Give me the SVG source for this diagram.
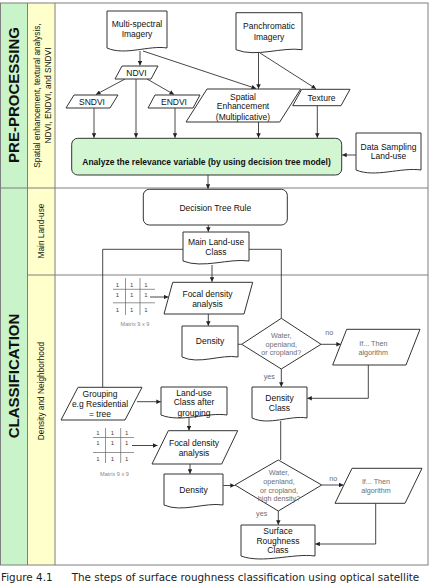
<svg xmlns="http://www.w3.org/2000/svg" width="431" height="583" viewBox="0 0 431 583">
<defs>
<marker id="a" viewBox="0 0 6 6" refX="6" refY="3" markerWidth="5" markerHeight="4.5" markerUnits="userSpaceOnUse" orient="auto"><path d="M0,0 L6,3 L0,6 z" fill="#222"/></marker>
<style>
.frame{stroke:#7f7f7f;stroke-width:1;fill:none}
.sh{fill:#fff;stroke:#333;stroke-width:1}
.c{stroke:#333;stroke-width:0.9;fill:none}
.ca{stroke:#333;stroke-width:0.9;fill:none;marker-end:url(#a)}
.t{font-family:"Liberation Sans",Arial,sans-serif;font-size:8.5px;fill:#111;text-anchor:middle}
.g{font-family:"Liberation Sans",Arial,sans-serif;font-size:7.2px;fill:#6e6e6e;text-anchor:middle}
.m{font-family:"Liberation Sans",Arial,sans-serif;font-size:6px;fill:#444;text-anchor:middle}
.mx{font-family:"Liberation Sans",Arial,sans-serif;font-size:5.6px;fill:#888;text-anchor:middle}
.gl{stroke:#666;stroke-width:0.7;fill:none}
.lane{font-family:"Liberation Sans",Arial,sans-serif;font-size:15px;font-weight:bold;fill:#111;text-anchor:middle}
.sub{font-family:"Liberation Sans",Arial,sans-serif;font-size:8.3px;fill:#111;text-anchor:middle}
.cap{font-family:"DejaVu Sans",Verdana,sans-serif;font-size:10.4px;fill:#222}
</style>
</defs>

<!-- lanes -->
<g id="lanes">
<rect x="0.5" y="3" width="27" height="562" fill="#c9f3c9"/>
<rect x="27.5" y="3" width="27.5" height="562" fill="#ffffcc"/>
<rect x="0.5" y="3" width="427.5" height="562" class="frame"/>
<line x1="27.5" y1="3" x2="27.5" y2="565" class="frame"/>
<line x1="55" y1="3" x2="55" y2="565" class="frame"/>
<line x1="0.5" y1="188" x2="428" y2="188" class="frame"/>
<line x1="27.5" y1="275" x2="428" y2="275" class="frame"/>
<text class="lane" transform="translate(19.4,95) rotate(-90)">PRE-PROCESSING</text>
<text class="lane" transform="translate(19.4,376) rotate(-90)">CLASSIFICATION</text>
<text class="sub" transform="translate(40,95.5) rotate(-90)">Spatial enhancement, textural analysis,</text>
<text class="sub" transform="translate(50.5,95.5) rotate(-90)">NDVI, ENDVI, and SNDVI</text>
<text class="sub" transform="translate(44,231) rotate(-90)">Main Land-use</text>
<text class="sub" transform="translate(44,391) rotate(-90)">Density and Neighborhood</text>
</g>

<!-- connectors -->
<g id="connectors">
<path class="ca" d="M140,51 V65.5"/>
<path class="ca" d="M143,51 L256,88.5"/>
<path class="ca" d="M125,79 L96,94.5"/>
<path class="ca" d="M147,79 L174,94.5"/>
<path class="ca" d="M136,79 V137.8"/>
<path class="ca" d="M94,108 V137.8"/>
<path class="ca" d="M175,108 V137.8"/>
<path class="ca" d="M258.5,53 V88.8"/>
<path class="ca" d="M260,53 L316,88.8"/>
<path class="ca" d="M258.5,122 V137.8"/>
<path class="ca" d="M317.3,105.7 V137.8"/>
<path class="ca" d="M356,155 H342.2"/>
<path class="ca" d="M208,175 V188.8"/>
<path class="ca" d="M208.3,225 V231.8"/>
<path class="ca" d="M212,265 V281.8"/>
<path class="c" d="M183,249.3 H102.7 V387.3"/>
<path class="c" d="M249,249.3 H281.3 V318.3"/>
<path class="ca" d="M150,297 H168.3"/>
<path class="ca" d="M208.3,314 V325.8"/>
<path class="c" d="M238,344.3 H241.7"/>
<path class="ca" d="M321,344.3 H340.8"/>
<path class="ca" d="M281.3,369 V386.8"/>
<path class="ca" d="M368.3,365 V398.3 H307.3"/>
<path class="c" d="M280.7,421 V460"/>
<path class="ca" d="M137,401.7 H160.8"/>
<path class="ca" d="M189,417 V430.5"/>
<path class="ca" d="M132,445.5 H157.5"/>
<path class="ca" d="M190,464 V473.8"/>
<path class="ca" d="M223.3,485.5 H234.8"/>
<path class="ca" d="M321.7,485 H343.5"/>
<path class="ca" d="M278.3,511 V524.8"/>
<path class="ca" d="M375.7,503.3 V544 H315.3"/>
</g>

<!-- pre-processing nodes -->
<g id="multispectral">
<path class="sh" d="M107,11 H167 V48 C149,45 125,56 107,48 Z"/>
<text class="t" x="137" y="27">Multi-spectral</text>
<text class="t" x="137" y="37">Imagery</text>
</g>
<g id="panchromatic">
<path class="sh" d="M236,12.7 H302 V49.7 C282,46.7 256,57.7 236,49.7 Z"/>
<text class="t" x="269" y="29">Panchromatic</text>
<text class="t" x="269" y="39.7">Imagery</text>
</g>
<g id="ndvi">
<polygon class="sh" points="122,66 158,66 151,79 115,79"/>
<text class="t" x="136.5" y="75.5">NDVI</text>
</g>
<g id="sndvi">
<polygon class="sh" points="74,95 118,95 110,108 66,108"/>
<text class="t" x="92" y="105">SNDVI</text>
</g>
<g id="endvi">
<polygon class="sh" points="155,95 200,95 193,108 148,108"/>
<text class="t" x="174" y="105">ENDVI</text>
</g>
<g id="spatial">
<polygon class="sh" points="207,89 300.7,89 279.7,122 186,122"/>
<text class="t" x="243" y="99.7">Spatial</text>
<text class="t" x="243" y="109">Enhancement</text>
<text class="t" x="243" y="119.7">(Multiplicative)</text>
</g>
<g id="texture">
<polygon class="sh" points="301.7,89.3 350,89.3 341,105.7 292.7,105.7"/>
<text class="t" x="321.5" y="100.7">Texture</text>
</g>
<g id="analyze">
<rect x="71.7" y="138.3" width="270" height="36.7" rx="6" fill="#d2f5d2" stroke="#333" stroke-width="1"/>
<text class="t" x="206.5" y="165" font-weight="bold">Analyze the relevance variable (by using decision tree model)</text>
</g>
<g id="datasampling">
<path class="sh" d="M356,133 H421 V170 C401,167 375,178 356,170 Z"/>
<text class="t" x="388.5" y="149.7">Data Sampling</text>
<text class="t" x="388.5" y="159">Land-use</text>
</g>

<!-- main land-use -->
<g id="decisiontree">
<rect class="sh" x="143.3" y="189.3" width="144" height="35.7" rx="6"/>
<text class="t" x="215.3" y="210.7">Decision Tree Rule</text>
</g>
<g id="mainlanduse">
<path class="sh" d="M183,232 H249 V261 C229,258 203,269 183,261 Z"/>
<text class="t" x="216" y="245.3">Main Land-use</text>
<text class="t" x="216" y="255.3">Class</text>
</g>

<!-- density and neighborhood -->
<g id="matrix1">
<path class="gl" d="M125.5,278 V315 M140,278 V315 M113,289.3 H155 M113,302.8 H155"/>
<text class="m" x="117.3" y="286.5">1</text><text class="m" x="131.7" y="286.5">1</text><text class="m" x="146" y="286.5">1</text>
<text class="m" x="117.3" y="297">1</text><text class="m" x="131.7" y="297">1</text><text class="m" x="146" y="297">1</text>
<text class="m" x="117.3" y="311.5">1</text><text class="m" x="131.7" y="311.5">1</text><text class="m" x="146" y="311.5">1</text>
<text class="mx" x="135" y="326">Matrix 9 x 9</text>
</g>
<g id="focal1">
<polygon class="sh" points="172.7,282.3 252.7,282.3 244,314 164,314"/>
<text class="t" x="207.5" y="296.7">Focal density</text>
<text class="t" x="207.5" y="306.7">analysis</text>
</g>
<g id="density1">
<path class="sh" d="M182,326 H238 V357 C221,354 199,365 182,357 Z"/>
<text class="t" x="210" y="344">Density</text>
</g>
<g id="diamond1">
<polygon class="sh" points="281.3,318.3 321,344.3 281.3,369 241.7,344.3"/>
<text class="g" x="281.3" y="337.5">Water,</text>
<text class="g" x="281.3" y="346.8">openland,</text>
<text class="g" x="281.3" y="355.2">or cropland?</text>
</g>
<text class="g" x="329.3" y="335">no</text>
<text class="g" x="269.3" y="378.5">yes</text>
<g id="ifthen1">
<polygon class="sh" points="346.7,329.3 420,329.3 406,365 332.7,365"/>
<text class="g" x="373.3" y="346">If... Then</text>
<text class="g" x="373.3" y="355">algorithm</text>
</g>
<g id="densityclass">
<path class="sh" d="M252,387 H307 V418 C290,415 269,426 252,418 Z"/>
<text class="t" x="279.5" y="401.3">Density</text>
<text class="t" x="279.5" y="411.3">Class</text>
</g>
<g id="grouping">
<polygon class="sh" points="78,387.3 142,387.3 125,420 61,420"/>
<text class="t" x="100" y="397">Grouping</text>
<text class="t" x="100" y="407">e.g Residential</text>
<text class="t" x="100" y="417">= tree</text>
</g>
<g id="landuseafter">
<path class="sh" d="M161,387 H227 V415 C207,412 181,423 161,415 Z"/>
<text class="t" x="194" y="395.7">Land-use</text>
<text class="t" x="194" y="405.3">Class after</text>
<text class="t" x="194" y="415.7">grouping</text>
</g>
<g id="matrix2">
<path class="gl" d="M105.5,428 V463 M120.7,428 V463 M93,437.5 H134 M93,452.5 H134"/>
<text class="m" x="97.8" y="435">1</text><text class="m" x="112.5" y="435">1</text><text class="m" x="126.7" y="435">1</text>
<text class="m" x="97.8" y="445.2">1</text><text class="m" x="112.5" y="445.2">1</text><text class="m" x="126.7" y="445.2">1</text>
<text class="m" x="97.8" y="460.5">1</text><text class="m" x="112.5" y="460.5">1</text><text class="m" x="126.7" y="460.5">1</text>
<text class="mx" x="114.5" y="475.7">Matrix 9 x 9</text>
</g>
<g id="focal2">
<polygon class="sh" points="168.3,430.7 237.7,430.7 221.7,464 152,464"/>
<text class="t" x="194" y="445.7">Focal density</text>
<text class="t" x="194" y="455.7">analysis</text>
</g>
<g id="density2">
<path class="sh" d="M164,474 H223 V505 C205,502 182,513 164,505 Z"/>
<text class="t" x="193.5" y="493">Density</text>
</g>
<g id="diamond2">
<polygon class="sh" points="278.3,460 321.7,485 278.3,511 235,485"/>
<text class="g" x="279" y="475.2">Water,</text>
<text class="g" x="279" y="484.2">openland,</text>
<text class="g" x="279" y="492.5">or cropland,</text>
<text class="g" x="279" y="500.8">high density?</text>
</g>
<text class="g" x="333.3" y="481">no</text>
<text class="g" x="261.7" y="516">yes</text>
<g id="ifthen2">
<polygon class="sh" points="352,468.3 422,468.3 405,503.3 335,503.3"/>
<text class="g" x="376" y="483.7">If... Then</text>
<text class="g" x="376" y="492.7">algorithm</text>
</g>
<g id="surfaceroughness">
<path class="sh" d="M241,525 H315 V556 C293,553 263,564 241,556 Z"/>
<text class="t" x="278" y="534">Surface</text>
<text class="t" x="278" y="543.7">Roughness</text>
<text class="t" x="278" y="553">Class</text>
</g>

<g id="caption">
<text class="cap" x="1" y="581">Figure 4.1</text>
<text class="cap" x="71.7" y="581">The steps of surface roughness classification using optical satellite</text>
</g>
</svg>
